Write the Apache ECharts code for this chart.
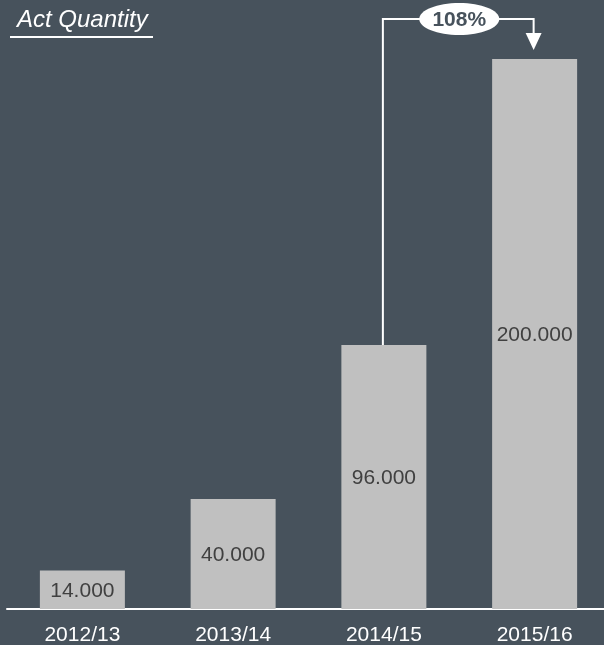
<!DOCTYPE html>
<html>
<head>
<meta charset="utf-8">
<script src="https://cdn.jsdelivr.net/npm/echarts@6/dist/echarts.min.js"></script>
<style>
html,body{margin:0;padding:0;background:#47525c;}
#main{width:604px;height:645px;}
</style>
</head>
<body>
<div id="main"></div>
<script>
const categories = ['2012/13', '2013/14', '2014/15', '2015/16'];
const values = [14, 40, 96, 200];
const valueLabels = ['14.000', '40.000', '96.000', '200.000'];
const growthLabel = '108%';
const titleText = 'Act Quantity';

const chart = echarts.init(document.getElementById('main'));
const FONT = '"Liberation Sans", Arial, sans-serif';

chart.setOption({
  backgroundColor: '#47525c',
  animation: false,
  title: {
    text: titleText, left: 12, top: 3,
    textStyle: { color: '#ffffff', fontSize: 24, fontStyle: 'italic', fontWeight: 'normal', fontFamily: FONT }
  },
  grid: { left: 7, width: 603, top: 59, bottom: 36, containLabel: false, outerBoundsMode: 'none' },
  xAxis: {
    type: 'category', data: categories,
    axisLine: { lineStyle: { color: '#ffffff', width: 2 } },
    axisTick: { show: false },
    axisLabel: { color: '#ffffff', fontSize: 21, margin: 16, fontFamily: FONT }
  },
  yAxis: { type: 'value', min: 0, max: 200, show: false, splitLine: { show: false } },
  series: [{
    type: 'bar', data: values, barWidth: 85,
    itemStyle: { color: '#c0c0c0' },
    label: {
      show: true, position: 'inside', offset: [0, 1], color: '#404040', fontSize: 21, fontFamily: FONT,
      formatter: p => valueLabels[p.dataIndex]
    }
  }]
});

function drawAnnotation() {
  const from = chart.convertToPixel({ seriesIndex: 0 }, [categories[2], values[2]]);
  const to = chart.convertToPixel({ seriesIndex: 0 }, [categories[3], values[3]]);
  const yTop = to[1] - 40;
  const arrowTop = to[1] - 26;
  const cx = (from[0] + to[0]) / 2;
  chart.setOption({
    graphic: [
      { type: 'line', shape: { x1: 10, y1: 37, x2: 153, y2: 37 }, style: { stroke: '#ffffff', lineWidth: 2 } },
      { type: 'polyline', shape: { points: [[from[0] - 1, from[1]], [from[0] - 1, yTop], [to[0] - 1, yTop], [to[0] - 1, arrowTop]] },
        style: { stroke: '#ffffff', lineWidth: 2, fill: null } },
      { type: 'polygon', shape: { points: [[to[0] - 9, arrowTop], [to[0] + 7, arrowTop], [to[0] - 1, to[1] - 9]] },
        style: { fill: '#ffffff' } },
      { type: 'ellipse', shape: { cx: cx, cy: yTop, rx: 40, ry: 16 }, style: { fill: '#ffffff' } },
      { type: 'text', x: cx, y: yTop + 1, style: { text: growthLabel, align: 'center', verticalAlign: 'middle',
        fill: '#47525c', fontSize: 21, fontWeight: 'bold', fontFamily: FONT } }
    ]
  });
}
drawAnnotation();
</script>
</body>
</html>
